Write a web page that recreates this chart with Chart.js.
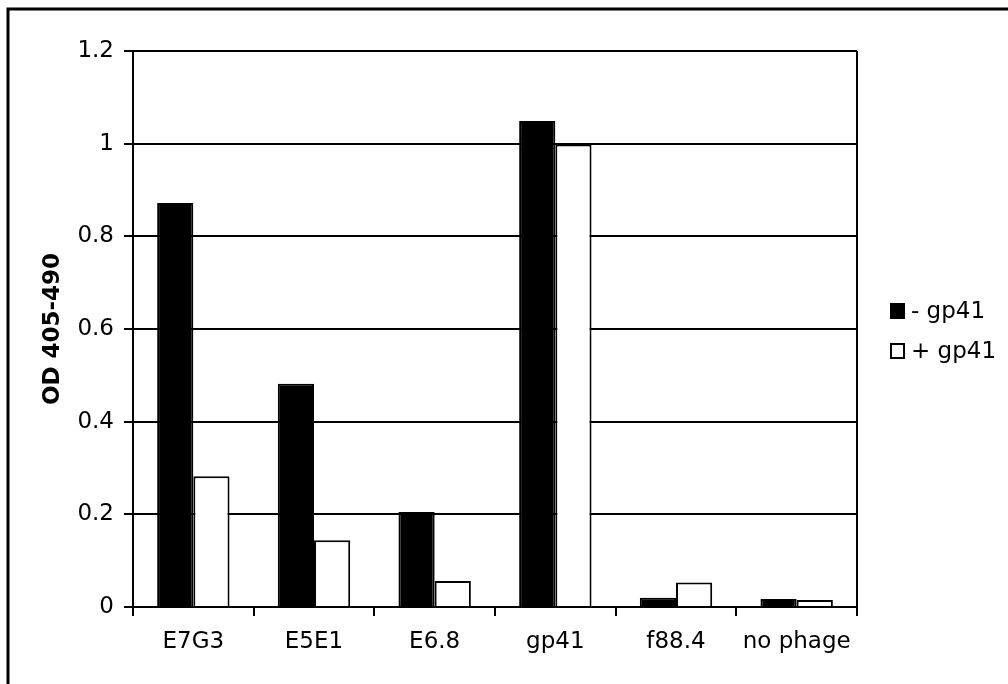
<!DOCTYPE html>
<html>
<head>
<meta charset="utf-8">
<script src="https://cdn.jsdelivr.net/npm/chart.js@4/dist/chart.umd.min.js"></script>
<style>
  body { margin: 0; background: #fff; }
  #wrap { width: 1008px; height: 684px; }
</style>
</head>
<body>
<div id="wrap"><canvas id="myChart" width="1008" height="684"></canvas></div>
<script>
// datos
const categories = ["E7G3", "E5E1", "E6.8", "gp41", "f88.4", "no phage"];
const minusGp41 = [0.872, 0.482, 0.205, 1.049, 0.02, 0.017];
const plusGp41 = [0.282, 0.144, 0.056, 0.998, 0.053, 0.015];
const seriesLabels = ["- gp41", "+ gp41"];
const yTicks = [0, 0.2, 0.4, 0.6, 0.8, 1, 1.2];
const yTitle = "OD 405-490";

const FONT = "'DejaVu Sans', Verdana, sans-serif";

// marco exterior (izquierda y arriba) y borde derecho del area del grafico
const framePlugin = {
  id: "frame",
  beforeDraw(chart) {
    const c = chart.ctx;
    c.save();
    c.strokeStyle = "#000";
    c.lineWidth = 3;
    c.beginPath();
    c.moveTo(8, 684);
    c.lineTo(8, 9);
    c.lineTo(1008, 9);
    c.stroke();
    c.restore();
  },
  beforeDatasetsDraw(chart) {
    const a = chart.chartArea;
    const c = chart.ctx;
    c.save();
    c.strokeStyle = "#000";
    c.lineWidth = 2;
    c.beginPath();
    c.moveTo(a.right, a.top);
    c.lineTo(a.right, a.bottom);
    c.stroke();
    c.restore();
  }
};

// leyenda propia a la derecha
const legendPlugin = {
  id: "sideLegend",
  afterDraw(chart) {
    const c = chart.ctx;
    c.save();
    c.font = "23px " + FONT;
    c.textBaseline = "middle";
    c.textAlign = "left";
    chart.data.datasets.forEach(function (ds, i) {
      const y = 303 + i * 40;
      c.fillStyle = ds.backgroundColor;
      c.fillRect(890, y, 15, 16);
      c.strokeStyle = "#000";
      c.lineWidth = 2;
      c.strokeRect(891, y + 1, 13, 14);
      c.fillStyle = "#000";
      c.fillText(ds.label, 911, y + 9);
    });
    c.restore();
  }
};

const ctx = document.getElementById("myChart").getContext("2d");

const chart = new Chart(ctx, {
  type: "bar",
  data: {
    labels: categories,
    datasets: [
      {
        label: seriesLabels[0],
        data: minusGp41,
        backgroundColor: "#000",
        borderColor: "#000",
        borderWidth: 2,
      },
      {
        label: seriesLabels[1],
        data: plusGp41,
        backgroundColor: "#fff",
        borderColor: "#000",
        borderWidth: 2,
      },
    ],
  },
  options: {
    responsive: false,
    animation: false,
    devicePixelRatio: 1,
    layout: { padding: { top: 51, right: 151, left: 0, bottom: 0 } },
    datasets: {
      bar: { categoryPercentage: 0.6, barPercentage: 1.0, borderSkipped: "start" }
    },
    plugins: {
      legend: { display: false },
      tooltip: { enabled: false },
    },
    scales: {
      x: {
        afterFit(scale) { scale.height = 77; },
        grid: {
          offset: true,
          drawOnChartArea: false,
          color: "#000",
          lineWidth: 2,
          tickLength: 9,
        },
        border: { color: "#000", width: 2 },
        ticks: {
          color: "#000",
          font: { family: FONT, size: 23 },
          padding: 12,
          maxRotation: 0,
        },
      },
      y: {
        min: 0,
        max: 1.2,
        afterFit(scale) { scale.width = 133; },
        afterBuildTicks(scale) {
          scale.ticks = yTicks.map(function (v) { return { value: v }; });
        },
        grid: { color: "#000", lineWidth: 2, tickLength: 9 },
        border: { color: "#000", width: 2 },
        ticks: {
          color: "#000",
          font: { family: FONT, size: 23 },
          padding: 10,
          callback: function (v) { return String(Math.round(v * 10) / 10); },
        },
        title: {
          display: true,
          text: yTitle,
          color: "#000",
          font: { family: FONT, size: 23, weight: "bold" },
          padding: { top: 39, bottom: 0 },
        },
      },
    },
  },
  plugins: [framePlugin, legendPlugin],
});
</script>
</body>
</html>
